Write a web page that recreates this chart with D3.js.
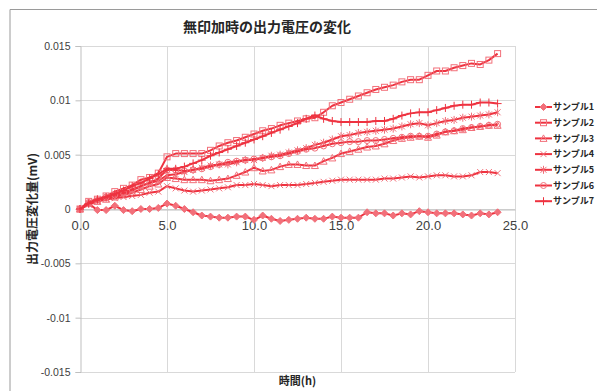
<!DOCTYPE html>
<html>
<head>
<meta charset="utf-8">
<script src="https://cdn.jsdelivr.net/npm/d3@7"></script>
<style>
  body { margin: 0; background: #fff; }
  svg { font-family: "Noto Sans CJK JP", "Noto Sans", sans-serif; }
</style>
</head>
<body>
<div id="container"></div>
<script>
/* CONSTANTS AND GLOBALS */
const width = 597,
  height = 391,
  margin = { top: 46, bottom: 19, left: 80, right: 82 };

const lineColor = "#ee3340",
  markColor = "#f2707a";

/* DATA */
const hours = [0, 0.5, 1, 1.5, 2, 2.5, 3, 3.5, 4, 4.5, 5, 5.5, 6, 6.5, 7, 7.5, 8, 8.5, 9, 9.5,
  10, 10.5, 11, 11.5, 12, 12.5, 13, 13.5, 14, 14.5, 15, 15.5, 16, 16.5, 17, 17.5, 18, 18.5, 19, 19.5,
  20, 20.5, 21, 21.5, 22, 22.5, 23, 23.5, 24];

const sample1 = [0, 0.0005, -0.0001, -0.0001, 0.0003, -0.0001, -0.0002, 0, 0, 0.0001,
  0.0005, 0.0003, 0, -0.0003, -0.0006, -0.0007, -0.0008, -0.0008, -0.0007, -0.0007,
  -0.0010, -0.0006, -0.0009, -0.0011, -0.0010, -0.0009, -0.0008, -0.0009, -0.0009, -0.0007,
  -0.0008, -0.0008, -0.0008, -0.0003, -0.0004, -0.0004, -0.0006, -0.0004, -0.0005, -0.0002,
  -0.0003, -0.0004, -0.0004, -0.0004, -0.0005, -0.0006, -0.0004, -0.0005, -0.0003];

const sample2 = [0, 0.0007, 0.0009, 0.0012, 0.0016, 0.0019, 0.0022, 0.0027, 0.0029, 0.0033,
  0.0048, 0.0051, 0.0051, 0.0051, 0.0051, 0.0054, 0.0058, 0.0061, 0.0063, 0.0066,
  0.0069, 0.0072, 0.0074, 0.0077, 0.0079, 0.0081, 0.0083, 0.0084, 0.0089, 0.0095,
  0.0098, 0.0101, 0.0104, 0.0107, 0.0110, 0.0112, 0.0114, 0.0117, 0.0119, 0.0119,
  0.0123, 0.0127, 0.0127, 0.0130, 0.0132, 0.0134, 0.0133, 0.0137, 0.0143];

const sample3 = [0, 0.0006, 0.0007, 0.0009, 0.0011, 0.0013, 0.0015, 0.0018, 0.0021, 0.0023,
  0.0029, 0.0028, 0.0027, 0.0027, 0.0027, 0.0026, 0.0027, 0.0028, 0.0031, 0.0034,
  0.0038, 0.0035, 0.0036, 0.0039, 0.0041, 0.0041, 0.0040, 0.0040, 0.0044, 0.0047,
  0.0051, 0.0053, 0.0055, 0.0057, 0.0058, 0.0060, 0.0063, 0.0065, 0.0066, 0.0067,
  0.0066, 0.0068, 0.0071, 0.0072, 0.0073, 0.0075, 0.0076, 0.0077, 0.0077];

const sample4 = [0, 0.0004, 0.0007, 0.0009, 0.0010, 0.0011, 0.0012, 0.0013, 0.0015, 0.0016,
  0.0021, 0.0019, 0.0017, 0.0016, 0.0017, 0.0018, 0.0019, 0.0020, 0.0022, 0.0022,
  0.0023, 0.0022, 0.0021, 0.0022, 0.0022, 0.0022, 0.0023, 0.0024, 0.0025, 0.0026,
  0.0027, 0.0027, 0.0027, 0.0027, 0.0027, 0.0028, 0.0028, 0.0029, 0.0030, 0.0029,
  0.0030, 0.0031, 0.0031, 0.0030, 0.0030, 0.0031, 0.0034, 0.0034, 0.0033];

const sample5 = [0, 0.0005, 0.0008, 0.0010, 0.0012, 0.0014, 0.0017, 0.0021, 0.0024, 0.0026,
  0.0031, 0.0032, 0.0034, 0.0036, 0.0038, 0.0040, 0.0041, 0.0041, 0.0043, 0.0045,
  0.0045, 0.0047, 0.0049, 0.0050, 0.0052, 0.0054, 0.0056, 0.0059, 0.0061, 0.0064,
  0.0067, 0.0068, 0.0070, 0.0071, 0.0072, 0.0073, 0.0074, 0.0076, 0.0078, 0.0079,
  0.0077, 0.0079, 0.0081, 0.0082, 0.0084, 0.0085, 0.0086, 0.0087, 0.0089];

const sample6 = [0, 0.0006, 0.0008, 0.0011, 0.0013, 0.0015, 0.0018, 0.0021, 0.0024, 0.0028,
  0.0036, 0.0036, 0.0035, 0.0036, 0.0037, 0.0039, 0.0041, 0.0043, 0.0044, 0.0045,
  0.0046, 0.0047, 0.0048, 0.0049, 0.0051, 0.0053, 0.0055, 0.0056, 0.0058, 0.0060,
  0.0061, 0.0062, 0.0062, 0.0063, 0.0063, 0.0064, 0.0065, 0.0066, 0.0067, 0.0067,
  0.0067, 0.0069, 0.0071, 0.0072, 0.0074, 0.0075, 0.0076, 0.0077, 0.0078];

const sample7 = [0, 0.0005, 0.0009, 0.0011, 0.0014, 0.0017, 0.0021, 0.0024, 0.0028, 0.0032,
  0.0037, 0.0037, 0.0039, 0.0042, 0.0045, 0.0049, 0.0052, 0.0055, 0.0058, 0.0061,
  0.0064, 0.0067, 0.0070, 0.0073, 0.0076, 0.0079, 0.0083, 0.0086, 0.0083, 0.0081,
  0.0080, 0.0080, 0.0080, 0.0080, 0.0081, 0.0081, 0.0083, 0.0086, 0.0088, 0.0089,
  0.0089, 0.0091, 0.0093, 0.0095, 0.0096, 0.0096, 0.0098, 0.0098, 0.0097];

const seriesNames = ["サンプル1", "サンプル2", "サンプル3", "サンプル4", "サンプル5", "サンプル6", "サンプル7"];
const seriesValues = [sample1, sample2, sample3, sample4, sample5, sample6, sample7];
const seriesMarkers = ["diamond", "square", "triangle", "cross", "star", "circle", "plus"];

const xTicks = [0, 5, 10, 15, 20, 25];
const yTicks = [-0.015, -0.01, -0.005, 0, 0.005, 0.01, 0.015];

const series = seriesNames.map((name, i) => ({
  name: name,
  marker: seriesMarkers[i],
  points: hours.map((h, j) => ({ hour: h, value: seriesValues[i][j] }))
}));

/* SCALES */
const xScale = d3.scaleLinear()
  .domain([0, 25])
  .range([margin.left, width - margin.right]);

const yScale = d3.scaleLinear()
  .domain([-0.015, 0.015])
  .range([height - margin.bottom, margin.top]);

/* SVG */
const svg = d3.select("#container")
  .append("svg")
  .attr("width", width)
  .attr("height", height);

// outer chart frame (only top and left edges are in view)
svg.append("path")
  .attr("d", `M10,${height} V9.5 H${width}`)
  .attr("fill", "none")
  .attr("stroke", "#9a9a9a")
  .attr("stroke-width", 1);

// GRID
svg.append("g")
  .selectAll("line")
  .data(yTicks)
  .join("line")
  .attr("x1", margin.left)
  .attr("x2", width - margin.right)
  .attr("y1", d => Math.round(yScale(d)) + 0.5)
  .attr("y2", d => Math.round(yScale(d)) + 0.5)
  .attr("stroke", "#d9d9d9");

svg.append("g")
  .selectAll("line")
  .data(xTicks.slice(1))
  .join("line")
  .attr("x1", d => Math.round(xScale(d)) + 0.5)
  .attr("x2", d => Math.round(xScale(d)) + 0.5)
  .attr("y1", margin.top)
  .attr("y2", height - margin.bottom)
  .attr("stroke", "#d9d9d9");

// AXES
const yAxis = svg.append("g")
  .attr("transform", `translate(${Math.round(margin.left) + 0.5},0)`)
  .call(d3.axisLeft(yScale)
    .tickValues(yTicks)
    .tickSize(5)
    .tickPadding(5)
    .tickFormat(d => d === 0 ? "0" : String(+d.toFixed(3))));
yAxis.select(".domain").attr("stroke", "#bfbfbf");
yAxis.selectAll(".tick line").attr("stroke", "#bfbfbf");
yAxis.selectAll("text")
  .attr("fill", "#404040")
  .attr("font-size", 10.5);

const xAxis = svg.append("g")
  .attr("transform", `translate(0,${Math.round(yScale(0)) + 0.5})`)
  .call(d3.axisBottom(xScale)
    .tickValues(xTicks)
    .tickSize(0)
    .tickPadding(11)
    .tickFormat(d3.format(".1f")));
xAxis.select(".domain").attr("stroke", "#bfbfbf");
xAxis.selectAll("text")
  .attr("fill", "#404040")
  .attr("font-size", 13);

// TITLES
svg.append("text")
  .attr("x", 267)
  .attr("y", 32)
  .attr("text-anchor", "middle")
  .attr("font-size", 14)
  .attr("font-weight", "bold")
  .attr("fill", "#262626")
  .text("無印加時の出力電圧の変化");

svg.append("text")
  .attr("x", (margin.left + width - margin.right) / 2)
  .attr("y", 385)
  .attr("text-anchor", "middle")
  .attr("font-size", 11)
  .attr("font-weight", "bold")
  .attr("fill", "#262626")
  .text("時間(h)");

svg.append("text")
  .attr("transform", `translate(37,${yScale(0)}) rotate(-90)`)
  .attr("text-anchor", "middle")
  .attr("font-size", 12)
  .attr("font-weight", "bold")
  .attr("fill", "#262626")
  .text("出力電圧変化量(mV)");

// MARKERS
function drawMarker(g, type) {
  const s = 3;
  if (type === "diamond") {
    g.append("path").attr("d", `M0,${-s - 0.5}L${s + 0.5},0L0,${s + 0.5}L${-s - 0.5},0Z`)
      .attr("fill", markColor).attr("stroke", markColor);
  } else if (type === "square") {
    g.append("rect").attr("x", -s).attr("y", -s).attr("width", 2 * s).attr("height", 2 * s)
      .attr("fill", "none").attr("stroke", markColor).attr("stroke-width", 1);
  } else if (type === "triangle") {
    g.append("path").attr("d", `M0,${-s - 0.5}L${s + 0.5},${s}L${-s - 0.5},${s}Z`)
      .attr("fill", "none").attr("stroke", markColor);
  } else if (type === "cross") {
    g.append("path").attr("d", `M${-s},${-s}L${s},${s}M${-s},${s}L${s},${-s}`)
      .attr("stroke", markColor).attr("stroke-width", 1);
  } else if (type === "star") {
    g.append("path").attr("d", `M${-s},${-s}L${s},${s}M${-s},${s}L${s},${-s}M0,${-s - 1}L0,${s + 1}`)
      .attr("stroke", markColor).attr("stroke-width", 1);
  } else if (type === "circle") {
    g.append("circle").attr("r", s)
      .attr("fill", "none").attr("stroke", markColor);
  } else if (type === "plus") {
    g.append("path").attr("d", `M${-s - 1},0L${s + 1},0M0,${-s - 1}L0,${s + 1}`)
      .attr("stroke", lineColor).attr("stroke-width", 1);
  }
}

// LINES
const lineGen = d3.line()
  .x(d => xScale(d.hour))
  .y(d => yScale(d.value));

const seriesG = svg.append("g")
  .selectAll("g")
  .data(series)
  .join("g");

seriesG.append("path")
  .attr("fill", "none")
  .attr("stroke", lineColor)
  .attr("stroke-width", 2)
  .attr("stroke-linejoin", "round")
  .attr("d", d => lineGen(d.points));

seriesG.each(function (s) {
  d3.select(this).selectAll("g.mk")
    .data(s.points)
    .join("g")
    .attr("class", "mk")
    .attr("transform", d => `translate(${xScale(d.hour)},${yScale(d.value)})`)
    .each(function () { drawMarker(d3.select(this), s.marker); });
});

// LEGEND
const legend = svg.append("g")
  .attr("transform", "translate(535,107)");

const legendItem = legend.selectAll("g")
  .data(series)
  .join("g")
  .attr("transform", (d, i) => `translate(0,${i * 15.7})`);

legendItem.append("line")
  .attr("x1", 0).attr("x2", 17)
  .attr("stroke", lineColor)
  .attr("stroke-width", 2);

legendItem.append("g")
  .attr("transform", "translate(8.5,0)")
  .each(function (d) { drawMarker(d3.select(this), d.marker); });

legendItem.append("text")
  .attr("x", 18)
  .attr("dy", "0.35em")
  .attr("font-size", 9)
  .attr("font-weight", "bold")
  .attr("fill", "#262626")
  .text(d => d.name);
</script>
</body>
</html>
